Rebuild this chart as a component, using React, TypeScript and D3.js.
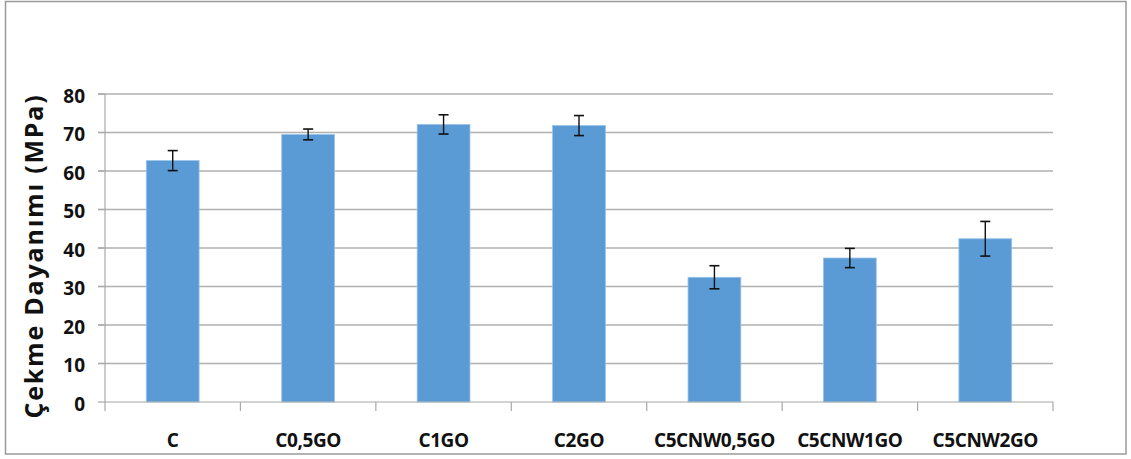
import React from "react";
import * as d3 from "d3";

const categories = ["C", "C0,5GO", "C1GO", "C2GO", "C5CNW0,5GO", "C5CNW1GO", "C5CNW2GO"];
const values = [62.7, 69.5, 72.1, 71.8, 32.4, 37.4, 42.4];
const errors = [2.6, 1.4, 2.5, 2.6, 3.0, 2.5, 4.5];
const yTicks = [0, 10, 20, 30, 40, 50, 60, 70, 80];
const yTitle = "Çekme Dayanımı (MPa)";

const W = 1131;
const H = 459;
const left = 105;
const right = 1053;
const top = 94;
const bottom = 402;

export default function App() {
  const x = d3.scaleBand<string>().domain(categories).range([left, right]).paddingInner(0).paddingOuter(0);
  const y = d3.scaleLinear().domain([0, 80]).range([bottom, top]);
  const bw = x.bandwidth() * 0.39;
  const font = "'Open Sans', 'Liberation Sans', sans-serif";
  const tickXs = categories.map((c) => x(c) as number).concat([right]);

  return (
    <svg width={W} height={H} style={{ position: "absolute", left: 0, top: 0 }} fontFamily={font}>
      <rect x={0} y={0} width={W} height={H} fill="#fff" />
      <rect x={5.5} y={1.5} width={1120.5} height={452.5} fill="none" stroke="#9a9a9a" strokeWidth={1.5} />
      {yTicks.slice(1).map((t) => (
        <line key={"g" + t} x1={98} x2={right} y1={y(t)} y2={y(t)} stroke="#b0b0b0" strokeWidth={1.5} />
      ))}
      <line x1={left} x2={left} y1={top} y2={bottom} stroke="#a8a8a8" strokeWidth={1.2} />
      {yTicks.map((t) => (
        <line key={"t" + t} x1={98} x2={left} y1={y(t)} y2={y(t)} stroke="#a8a8a8" strokeWidth={1.2} />
      ))}
      {categories.map((c, i) => {
        const cx = (x(c) as number) + x.bandwidth() / 2;
        return (
          <g key={c}>
            <rect x={cx - bw / 2} y={y(values[i])} width={bw} height={bottom - y(values[i])} fill="#5B9BD5" stroke="#9cc3e8" strokeWidth={0.8} />
            <line x1={cx} x2={cx} y1={y(values[i] + errors[i])} y2={y(values[i] - errors[i])} stroke="#111" strokeWidth={1.4} />
            <line x1={cx - 5} x2={cx + 5} y1={y(values[i] + errors[i])} y2={y(values[i] + errors[i])} stroke="#111" strokeWidth={1.6} />
            <line x1={cx - 5} x2={cx + 5} y1={y(values[i] - errors[i])} y2={y(values[i] - errors[i])} stroke="#111" strokeWidth={1.6} />
            <text x={cx} y={446.5} textAnchor="middle" fontSize={19} letterSpacing={-0.4} fontWeight="bold" fill="#111">
              {c}
            </text>
          </g>
        );
      })}
      <line x1={left} x2={right} y1={bottom} y2={bottom} stroke="#a8a8a8" strokeWidth={1.2} />
      {tickXs.map((tx, i) => (
        <line key={"xt" + i} x1={tx} x2={tx} y1={bottom} y2={bottom + 9} stroke="#a8a8a8" strokeWidth={1.2} />
      ))}
      {yTicks.map((t) => (
        <text key={"l" + t} x={85} y={y(t)} dy="0.46em" textAnchor="end" fontSize={19} fontWeight="bold" fill="#111">
          {t}
        </text>
      ))}
      <text
        transform={`translate(43, 256) rotate(-90)`}
        textAnchor="middle"
        fontSize={25}
        letterSpacing={1.8}
        fontWeight="bold"
        fill="#111"
      >
        {yTitle}
      </text>
    </svg>
  );
}
